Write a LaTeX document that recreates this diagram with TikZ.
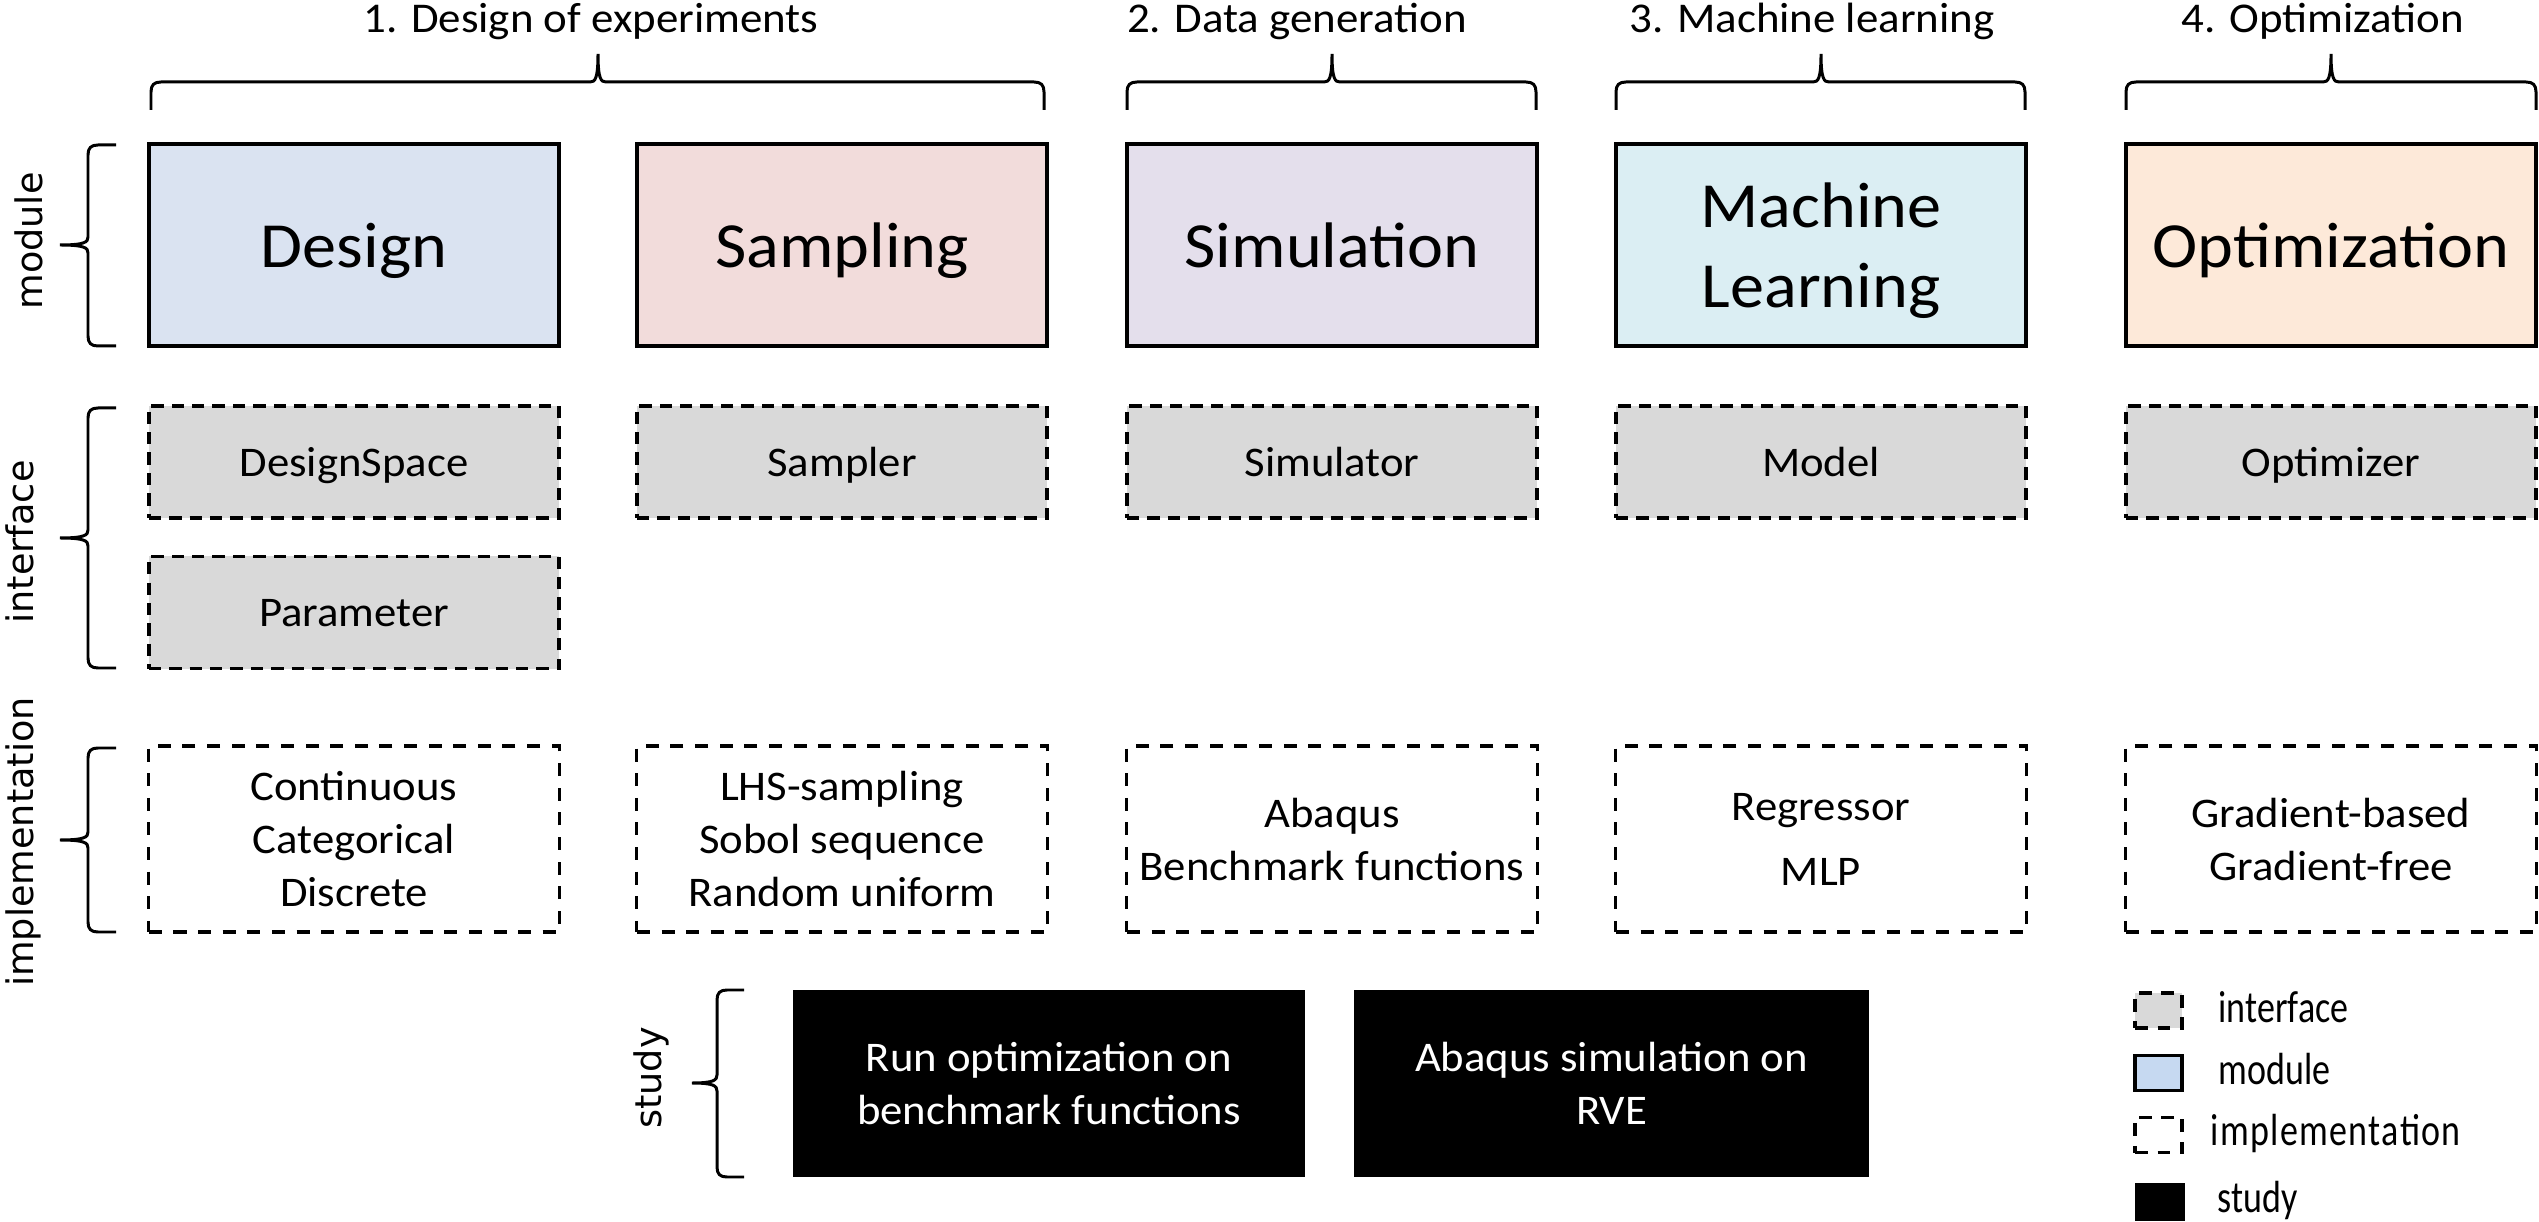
\documentclass[tikz,border=0pt]{standalone}
\usepackage{fontspec}
\setmainfont[FakeStretch=1.06]{Carlito}
\newfontfamily\dejavu{DejaVu Sans}
\newfontfamily\legfont[FakeStretch=0.8]{Carlito}
\newfontfamily\legfontsp[FakeStretch=0.8,LetterSpace=3]{Carlito}
\definecolor{cDesign}{RGB}{218,227,241}
\definecolor{cSampling}{RGB}{242,220,219}
\definecolor{cSim}{RGB}{228,223,236}
\definecolor{cML}{RGB}{219,238,243}
\definecolor{cOpt}{RGB}{253,233,217}
\definecolor{cGray}{RGB}{217,217,217}
\definecolor{cLeg}{RGB}{198,217,241}
\newcommand\mytopbrace[3]{%
  \draw[brace] (#1,110) -- (#1,92) .. controls (#1,85) and (#1+3,82) .. (#1+10,82)
   -- (#3-8,82) .. controls (#3-3,82) and (#3,79) .. (#3,54)
   .. controls (#3,79) and (#3+3,82) .. (#3+8,82)
   -- (#2-10,82) .. controls (#2-3,82) and (#2,85) .. (#2,92) -- (#2,110);}
\newcommand\myleftbrace[6]{%
  \draw[brace] (#2,#4) -- (#1+10,#4) .. controls (#1+3,#4) and (#1,#4+3) .. (#1,#4+10)
   -- (#1,#6-8) .. controls (#1,#6-3) and (#1-3,#6) .. (#3,#6)
   .. controls (#1-3,#6) and (#1,#6+3) .. (#1,#6+8)
   -- (#1,#5-10) .. controls (#1,#5-3) and (#1+3,#5) .. (#1+10,#5) -- (#2,#5);}
\begin{document}
\begin{tikzpicture}[x=0.01cm, y=-0.01cm,
  brace/.style={line width=0.85pt},
  mod/.style={draw, line width=1pt, minimum width=4.1cm, minimum height=2.02cm,
    inner sep=0pt, align=center, text depth=0pt, font=\fontsize{18.3}{22.8}\selectfont},
  ifc/.style={draw, fill=cGray, line width=0.95pt, dash pattern=on 3.5pt off 2.3pt,
    minimum width=4.1cm, minimum height=1.12cm, inner sep=0pt, align=center,
    text depth=0pt, font=\fontsize{12}{15}\selectfont},
  impl/.style={draw, line width=0.9pt, dash pattern=on 3.7pt off 3.3pt,
    minimum width=4.1cm, minimum height=1.86cm, inner sep=0pt, align=center,
    text depth=0pt, font=\fontsize{12}{15}\selectfont},
  studybox/.style={fill=black, text=white, minimum height=1.87cm, inner sep=0pt,
    align=center, text depth=0pt, font=\fontsize{12}{15}\selectfont},
  head/.style={anchor=base, inner sep=0pt, font=\fontsize{12.05}{14}\selectfont},
  side/.style={rotate=90, anchor=base, inner sep=0pt, font=\dejavu\fontsize{10.4}{12}\selectfont},
  legtext/.style={anchor=base west, inner sep=0pt, font=\legfont\fontsize{12.8}{15}\selectfont},
  legicon/.style={minimum width=0.47cm, minimum height=0.35cm, inner sep=0pt, line width=0.9pt}
]
\useasboundingbox (0,0) rectangle (2539,1222);

% headings
\node[head] (h1) at (591,33) {1. Design of experiments};
\node[head] (h2) at (1297,33) {2. Data generation};
\node[head] (h3) at (1812,33) {3. Machine learning};
\node[head] (h4) at (2323,33) {4. Optimization};

% top braces
\mytopbrace{151}{1044}{598}
\mytopbrace{1127}{1536}{1332}
\mytopbrace{1616}{2025}{1821}
\mytopbrace{2126}{2536}{2331}

% modules
\node[mod, fill=cDesign] (design) at (354,245) {Design};
\node[mod, fill=cSampling] (sampling) at (842,245) {Sampling};
\node[mod, fill=cSim] (simulation) at (1332,245) {Simulation};
\node[mod, fill=cML] (ml) at (1821,245) {Machine\\Learning};
\node[mod, fill=cOpt] (optimization) at (2331,245) {Optimization};

% interfaces
\node[ifc] (designspace) at (354,462) {DesignSpace};
\node[ifc] (sampler) at (842,462) {Sampler};
\node[ifc] (simulator) at (1332,462) {Simulator};
\node[ifc] (model) at (1821,462) {Model};
\node[ifc] (optimizer) at (2331,462) {Optimizer};
\node[ifc] (parameter) at (354,612.5) {Parameter};

% implementations
\node[impl] (impdesign) at (354,839) {Continuous\\Categorical\\Discrete};
\node[impl] (impsampling) at (842,839) {LHS-sampling\\Sobol sequence\\Random uniform};
\node[impl] (impsim) at (1332,839) {Abaqus\\Benchmark functions};
\node[impl] (impml) at (1821,839) {Regressor\\[3.5pt]MLP};
\node[impl] (impopt) at (2331,839) {Gradient-based\\Gradient-free};

% studies
\node[studybox, minimum width=5.12cm] (study1) at (1049,1083.5) {Run optimization on\\benchmark functions};
\node[studybox, minimum width=5.15cm] (study2) at (1611.5,1083.5) {Abaqus simulation on\\RVE};

% left braces and labels
\myleftbrace{88}{116}{60}{145}{346}{245}
\myleftbrace{88}{116}{60}{408}{668}{538}
\myleftbrace{88}{116}{60}{748}{932}{840}
\myleftbrace{717}{744}{692}{990}{1177}{1083}
\node[side] (lmodule) at (42,241) {module};
\node[side] (linterface) at (33,542) {interface};
\node[side] (limpl) at (33,842) {implementation};
\node[side] (lstudy) at (661,1078) {study};

% legend
\node[legicon, draw, fill=cGray, dash pattern=on 3.6pt off 2.8pt] (legifc) at (2158.5,1010.5) {};
\node[legicon, draw, fill=cLeg] (legmod) at (2158.5,1073) {};
\node[legicon, draw, dash pattern=on 3.6pt off 2.8pt] (legimpl) at (2158.5,1135) {};
\node[legicon, fill=black, minimum width=0.5cm, minimum height=0.37cm] (legstudy) at (2160,1202) {};
\node[legtext] (tifc) at (2218,1022) {interface};
\node[legtext] (tmod) at (2218,1084) {module};
\node[legtext, font=\legfontsp\fontsize{12.8}{15}\selectfont] (timpl) at (2210,1145) {implementation};
\node[legtext] (tstudy) at (2217,1212) {study};
\end{tikzpicture}
\end{document}
